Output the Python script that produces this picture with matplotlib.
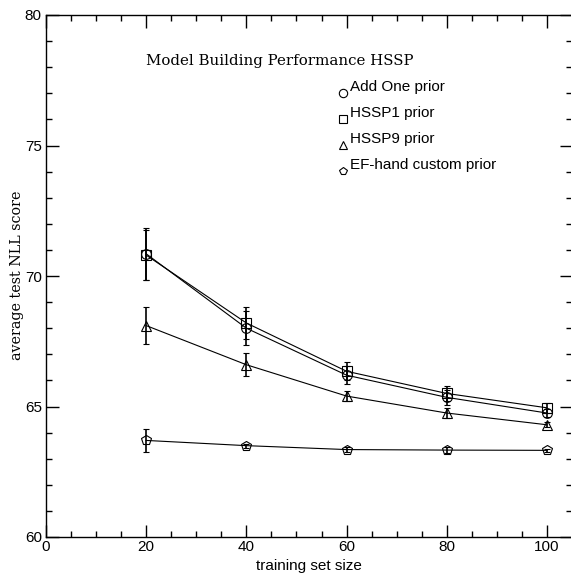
import matplotlib.pyplot as plt
from matplotlib.ticker import MultipleLocator

# training set sizes
x = [20, 40, 60, 80, 100]

# average test NLL score and error for each prior
add_one = [70.85, 68.0, 66.2, 65.35, 64.75]
add_one_err = [1.0, 0.65, 0.35, 0.3, 0.15]
hssp1 = [70.8, 68.2, 66.35, 65.5, 64.95]
hssp1_err = [0.95, 0.6, 0.35, 0.3, 0.2]
hssp9 = [68.1, 66.6, 65.4, 64.75, 64.3]
hssp9_err = [0.7, 0.45, 0.2, 0.2, 0.1]
efhand = [63.7, 63.5, 63.35, 63.33, 63.32]
efhand_err = [0.45, 0.08, 0.1, 0.1, 0.05]

labels = ['Add One prior', 'HSSP1 prior', 'HSSP9 prior', 'EF-hand custom prior']
markers = ['o', 's', '^', 'p']

plt.rcParams['font.family'] = ['Liberation Sans', 'DejaVu Sans']

fig = plt.figure(figsize=(5.71, 5.74), dpi=100)
ax = fig.add_axes([46 / 571, 1 - 537 / 574, 526 / 571, 522 / 574])

series = [(add_one, add_one_err), (hssp1, hssp1_err), (hssp9, hssp9_err), (efhand, efhand_err)]
for (y, e), m in zip(series, markers):
    ax.errorbar(x, y, yerr=e, color='black', lw=0.8, elinewidth=1.2, capsize=2.5,
                capthick=1.2, marker=m, markersize=7, markerfacecolor='none',
                markeredgewidth=0.8)

ax.set_xlim(0, 105)
ax.set_ylim(60, 80)
ax.xaxis.set_major_locator(MultipleLocator(20))
ax.xaxis.set_minor_locator(MultipleLocator(5))
ax.yaxis.set_major_locator(MultipleLocator(5))
ax.yaxis.set_minor_locator(MultipleLocator(1))
ax.tick_params(which='both', direction='in', top=True, right=True, labelsize=11, width=1)
ax.tick_params(which='major', length=9)
ax.tick_params(which='minor', length=4)
ax.tick_params(axis='x', pad=2)
ax.tick_params(axis='y', pad=3)
for s in ax.spines.values():
    s.set_linewidth(1)

ax.set_xlabel('training set size', fontsize=11, labelpad=4)
ax.set_ylabel('average test NLL score', fontsize=10.3, family='DejaVu Serif')
ax.yaxis.set_label_coords(-0.042, 0.502)

ax.text(0.445, 0.912, 'Model Building Performance HSSP', transform=ax.transAxes,
        ha='center', va='center', fontsize=10.8, family='DejaVu Serif')

# hand-made legend: small marker at lower left of each label
for i, (lab, m) in enumerate(zip(labels, markers)):
    ty = 0.863 - i * 0.05
    ax.plot([0.565], [ty - 0.012], marker=m, markersize=6, color='black',
            markerfacecolor='none', markeredgewidth=0.8, transform=ax.transAxes)
    ax.text(0.577, ty, lab, transform=ax.transAxes, ha='left', va='center', fontsize=11)

plt.savefig('out.png', dpi=100)
